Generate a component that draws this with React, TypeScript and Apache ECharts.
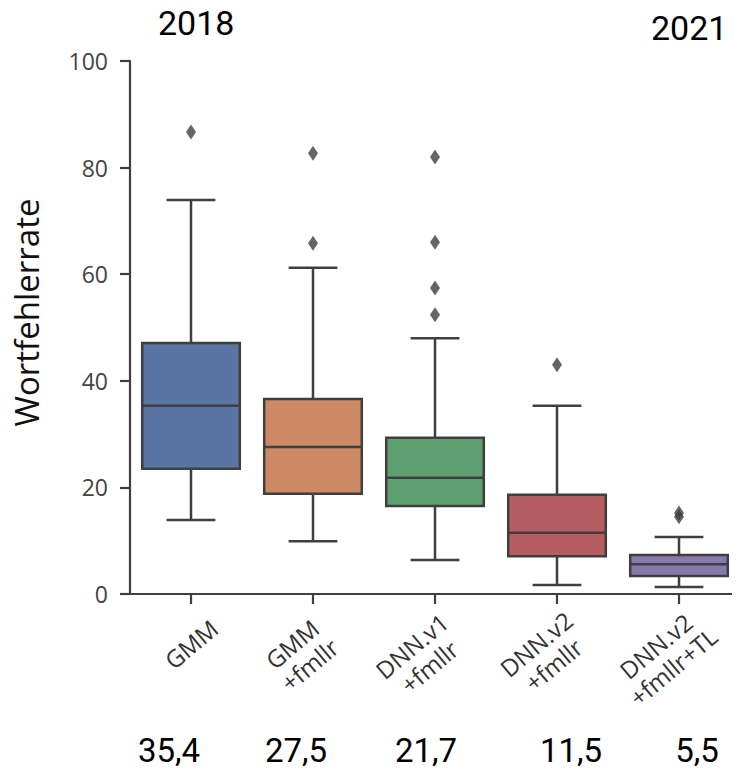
import React, { useEffect, useRef } from "react";
import * as echarts from "echarts";

const categories = ["GMM", "GMM\n+fmllr", "DNN.v1\n+fmllr", "DNN.v2\n+fmllr", "DNN.v2\n+fmllr+TL"];
// [min whisker, Q1, median, Q3, max whisker]
const boxStats = [
  [13.9, 23.5, 35.3, 47.1, 73.9],
  [9.9, 18.8, 27.6, 36.6, 61.2],
  [6.4, 16.5, 21.8, 29.3, 48.0],
  [1.7, 7.1, 11.5, 18.6, 35.3],
  [1.3, 3.4, 5.6, 7.3, 10.7],
];
const outliers = [
  [0, 86.7],
  [1, 82.7],
  [1, 65.8],
  [2, 82.0],
  [2, 66.0],
  [2, 57.4],
  [2, 52.4],
  [3, 43.0],
  [4, 14.5],
  [4, 15.2],
];
const boxColors = ["#5875a4", "#cc8963", "#5f9e6e", "#b55d60", "#857aab"];
const yTicks = [0, 20, 40, 60, 80, 100];
const medianLabels = ["35,4", "27,5", "21,7", "11,5", "5,5"];
const yearLabels = ["2018", "2021"];

const LINE = "#3f3f3f";

// label padding (in the rotated text frame) to push two-line labels lower
const labelPads = [
  [0, 0, 0, 0],
  [64, 32, 0, 0],
  [64, 38, 0, 0],
  [64, 32, 0, 0],
  [96, 38, 0, 0],
];

export default function App() {
  const ref = useRef<HTMLDivElement>(null);
  useEffect(() => {
    if (!ref.current) return;
    const chart = echarts.init(ref.current, null, { renderer: "svg" });
    const boxData = boxStats.map((s, i) => [i, ...s]);
    chart.setOption({
      animation: false,
      grid: { left: 130, right: 0, top: 61, bottom: 182, outerBoundsMode: "none" },
      xAxis: {
        type: "category",
        data: categories.map((c, i) => ({
          value: c,
          textStyle: { padding: labelPads[i], align: "center", verticalAlign: "middle" },
        })),
        boundaryGap: true,
        axisLine: { show: true, lineStyle: { color: LINE, width: 2.2 } },
        axisTick: { show: true, alignWithLabel: true, length: 10, lineStyle: { color: LINE, width: 2.2 } },
        axisLabel: {
          rotate: 40,
          align: "center",
          verticalAlign: "middle",
          margin: 50,
          fontSize: 24,
          lineHeight: 27,
          color: "#333333",
          fontFamily: "Open Sans",
          interval: 0,
        },
        splitLine: { show: false },
      },
      yAxis: {
        type: "value",
        min: yTicks[0],
        max: yTicks[yTicks.length - 1],
        interval: 20,
        name: "Wortfehlerrate",
        nameLocation: "middle",
        nameGap: 87,
        nameTextStyle: { fontSize: 33, color: "#111111", fontFamily: "Open Sans", padding: [0, 0, 0, 30] },
        axisLine: { show: true, lineStyle: { color: LINE, width: 2.2 } },
        axisTick: { show: true, length: 10, lineStyle: { color: LINE, width: 2.2 } },
        axisLabel: { fontSize: 23, color: "#444444", margin: 22, fontFamily: "Open Sans" },
        splitLine: { show: false },
      },
      series: [
        {
          type: "custom",
          data: boxData,
          encode: { x: 0, y: [1, 2, 3, 4, 5] },
          renderItem: (params: any, api: any) => {
            const idx = api.value(0);
            const band = api.size([1, 0])[0];
            const bw = band * 0.8;
            const cx = api.coord([idx, 0])[0];
            const yMin = api.coord([idx, api.value(1)])[1];
            const yQ1 = api.coord([idx, api.value(2)])[1];
            const yMed = api.coord([idx, api.value(3)])[1];
            const yQ3 = api.coord([idx, api.value(4)])[1];
            const yMax = api.coord([idx, api.value(5)])[1];
            const lineStyle = { stroke: LINE, lineWidth: 2.5, fill: null };
            const cap = bw / 4;
            return {
              type: "group",
              children: [
                { type: "line", shape: { x1: cx, y1: yQ3, x2: cx, y2: yMax }, style: lineStyle },
                { type: "line", shape: { x1: cx, y1: yQ1, x2: cx, y2: yMin }, style: lineStyle },
                { type: "line", shape: { x1: cx - cap, y1: yMax, x2: cx + cap, y2: yMax }, style: lineStyle },
                { type: "line", shape: { x1: cx - cap, y1: yMin, x2: cx + cap, y2: yMin }, style: lineStyle },
                {
                  type: "rect",
                  shape: { x: cx - bw / 2, y: yQ3, width: bw, height: yQ1 - yQ3 },
                  style: { fill: boxColors[idx], stroke: LINE, lineWidth: 2.5 },
                },
                { type: "line", shape: { x1: cx - bw / 2, y1: yMed, x2: cx + bw / 2, y2: yMed }, style: lineStyle },
              ],
            };
          },
          z: 2,
        },
        {
          type: "scatter",
          data: outliers,
          symbol: "diamond",
          symbolSize: [10, 15],
          itemStyle: { color: LINE },
          z: 3,
        },
      ],
      graphic: [
        { type: "text", left: 158, top: 6, style: { text: yearLabels[0], fontSize: 34, fontFamily: "Roboto", fill: "#000" } },
        { type: "text", left: 651, top: 11, style: { text: yearLabels[1], fontSize: 34, fontFamily: "Roboto", fill: "#000" } },
        ...medianLabels.map((t, i) => ({
          type: "text",
          x: [169, 296, 426, 571, 697][i],
          y: 767,
          style: {
            text: t,
            fontSize: 33,
            fontFamily: "Roboto",
            fill: "#000",
            textAlign: "center",
            textVerticalAlign: "bottom",
          },
        })),
      ],
    });
    return () => chart.dispose();
  }, []);
  return <div ref={ref} style={{ width: 740, height: 776, margin: -8 }} />;
}
